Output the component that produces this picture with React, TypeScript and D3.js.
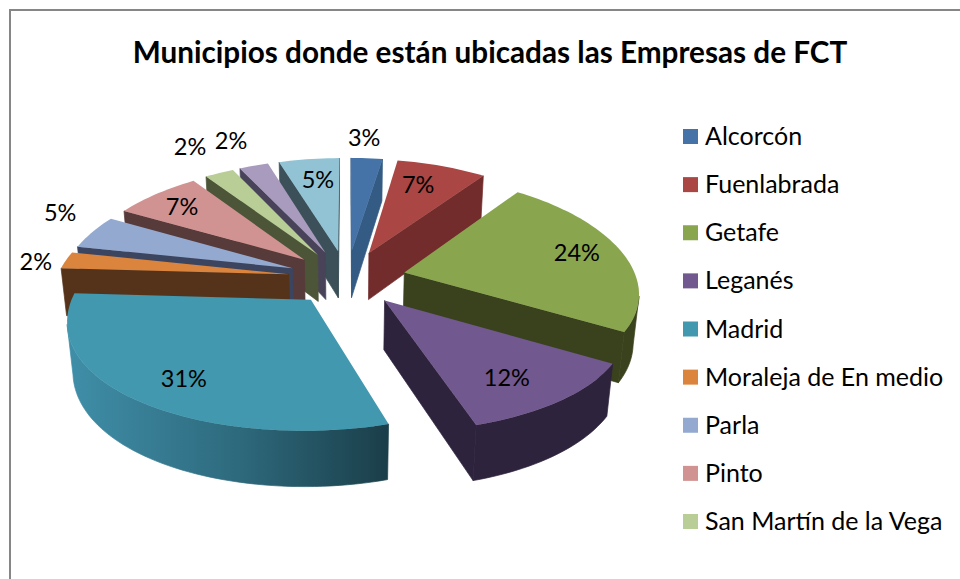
import React from "react";
import * as d3 from "d3";

// ---- data ----
const title = "Municipios donde están ubicadas las Empresas de FCT";
const legendNames = ["Alcorcón", "Fuenlabrada", "Getafe", "Leganés", "Madrid", "Moraleja de En medio", "Parla", "Pinto", "San Martín de la Vega"];
const values = [2.6, 7.4, 23.6, 11.6, 30.7, 2.4, 4.8, 7.1, 2.4, 2.4, 5.0];
const percentLabels = ["3%", "7%", "24%", "12%", "31%", "2%", "5%", "7%", "2%", "2%", "5%"];

// ---- styling ----
const topColors = ["#4572a7", "#aa4643", "#89a54e", "#71588f", "#4198af", "#db843d", "#93a9cf", "#d19392", "#b9cd96", "#a99bbd", "#91c3d5"];
const sideColors = ["#345b84", "#722c2c", "#3a421d", "#2e233c", "#2f6c80", "#55331a", "#3c4560", "#573a3a", "#4c5538", "#49435a", "#3b5058"];
// painter's order: back-right round to the front, then back-left round to the front
const drawOrder = [0, 1, 2, 3, 10, 9, 8, 7, 6, 5, 4];
// explosion of each slice, in pie radii
const explode = [0.254, 0.254, 0.254, 0.254, 0.245, 0.254, 0.254, 0.254, 0.254, 0.254, 0.254];
// label placement in the pie plane: radius (in pie radii) and clock angle (deg)
const labelRadius = [1.5, 1.013, 1.054, 1.016, 1.026, 1.384, 1.503, 1.056, 1.614, 1.585, 1.006];
const labelAngle = [3.5, 20.4, 77.2, 143.9, 216.5, 276.5, 295, 311.5, 329.2, 337.1, 351.7];

const W = 960, H = 579;
const cx = 347, cy = 278, R = 232, Ry = 110, K = 0.16, KY = 0.118, DEPTH = 48, SHRINK = 0.02;

function project(u: number, v: number, z: number): [number, number] {
  const s = 1 / (1 - K * v + SHRINK * z);
  const sy = 1 / (1 - KY * v);
  return [cx + R * u * s, cy + Ry * v * sy + DEPTH * z * sy];
}

const pieGen = d3.pie<number>().sort(null).startAngle(0).endAngle(2 * Math.PI);
const arcs = pieGen(values);
const line = d3.line<[number, number]>();
const fontFamily = "Lato, Carlito, 'Open Sans', sans-serif";

function Slice({ i }: { i: number }) {
  const a = arcs[i];
  const mid = (a.startAngle + a.endAngle) / 2;
  const au = explode[i] * Math.sin(mid), av = -explode[i] * Math.cos(mid);
  const n = Math.max(4, Math.ceil((a.endAngle - a.startAngle) / 0.03));
  const thetas = d3.range(n + 1).map((k) => a.startAngle + ((a.endAngle - a.startAngle) * k) / n);
  const pt = (t: number, z: number) => project(au + Math.sin(t), av - Math.cos(t), z);
  const apex = (z: number) => project(au, av, z);

  const top = [apex(0), ...thetas.map((t) => pt(t, 0))];
  const wall = (p: (z: number) => [number, number], q: (z: number) => [number, number]) =>
    [p(0), q(0), q(1), p(1)] as [number, number][];

  const faces: React.ReactNode[] = [];
  const sideFill = i === 4 ? "url(#madridSide)" : sideColors[i];
  const startP = (z: number) => pt(a.startAngle, z);
  const endP = (z: number) => pt(a.endAngle, z);
  if (startP(0)[0] < apex(0)[0]) faces.push(<path key="s" d={line(wall(apex, startP)) + "Z"} fill={sideColors[i]} stroke={sideColors[i]} strokeWidth={0.7} />);
  if (apex(0)[0] < endP(0)[0]) faces.push(<path key="e" d={line(wall(endP, apex)) + "Z"} fill={sideColors[i]} stroke={sideColors[i]} strokeWidth={0.7} />);
  // outer wall: the part of the rim running right-to-left on screen faces the viewer
  const rim = thetas.filter((t, k) => {
    const t2 = thetas[Math.min(k + 1, n)];
    const t1 = thetas[Math.max(k - 1, 0)];
    return pt(t2, 0)[0] < pt(t1, 0)[0];
  });
  if (rim.length > 1) {
    const poly = [...rim.map((t) => pt(t, 0)), ...rim.slice().reverse().map((t) => pt(t, 1))];
    faces.push(<path key="o" d={line(poly) + "Z"} fill={sideFill} stroke={sideFill} strokeWidth={0.7} />);
  }
  return (
    <g>
      {faces}
      <path d={line(top) + "Z"} fill={topColors[i]} />
    </g>
  );
}

export default function App() {
  const rowY = d3.scaleLinear().domain([0, 8]).range([136, 521]);
  return (
    <svg width={W} height={H} viewBox={`0 0 ${W} ${H}`} style={{ position: "absolute", left: 0, top: 0, background: "#fff" }}>
      <defs>
        <linearGradient id="madridSide" gradientUnits="userSpaceOnUse" x1={70} x2={386} y1={0} y2={0}>
          <stop offset="0" stopColor="#3f8ea8" />
          <stop offset="0.5" stopColor="#2f6c80" />
          <stop offset="1" stopColor="#1b3f4a" />
        </linearGradient>
      </defs>
      <path d={`M${W},10H10V${H}`} fill="none" stroke="#868686" strokeWidth={2} />
      <text x={490} y={63} textAnchor="middle" fontFamily={fontFamily} fontWeight={700} fontSize={29.7} fill="#000">{title}</text>
      {drawOrder.map((i) => <Slice key={i} i={i} />)}
      {percentLabels.map((t, i) => {
        const th = (labelAngle[i] * Math.PI) / 180;
        const [x, y] = project(labelRadius[i] * Math.sin(th), -labelRadius[i] * Math.cos(th), 0);
        return <text key={i} x={x} y={y} dy="0.36em" textAnchor="middle" fontFamily={fontFamily} fontSize={23.5} fill="#000">{t}</text>;
      })}
      {legendNames.map((name, i) => (
        <g key={name}>
          <rect x={683} y={rowY(i) - 7} width={15} height={15} fill={topColors[i]} />
          <text x={705} y={rowY(i)} dy="0.36em" fontFamily={fontFamily} fontSize={25} fill="#000">{name}</text>
        </g>
      ))}
    </svg>
  );
}
